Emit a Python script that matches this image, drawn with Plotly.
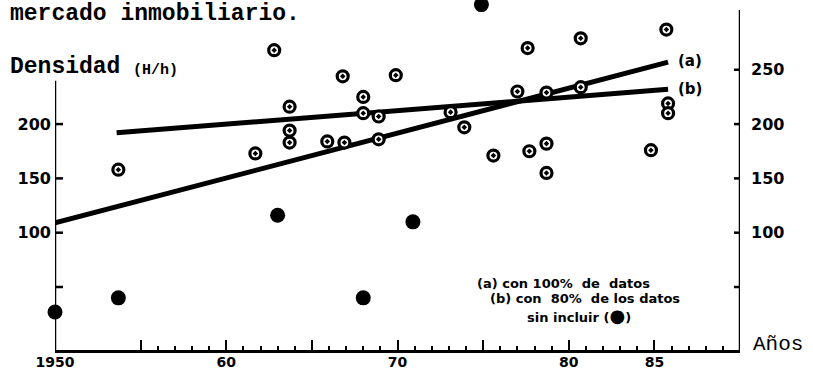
import plotly.graph_objects as go

# ---------------- data ----------------
open_years = [1953.7, 1962.8, 1966.8, 1969.9, 1963.7, 1963.7, 1963.7, 1961.7, 1968.0, 1968.0,
              1968.9, 1965.9, 1966.9, 1968.9, 1977.6, 1980.7, 1985.7, 1977.0, 1978.7, 1980.7,
              1973.1, 1973.9, 1975.6, 1977.7, 1978.7, 1978.7, 1984.8, 1985.8, 1985.8]
open_vals = [158, 268, 244, 245, 216, 194, 183, 173, 225, 210,
             207, 184, 183, 186, 270, 279, 287, 230, 229, 234,
             211, 197, 171, 175, 182, 155, 176, 219, 210]

excl_years = [1950.0, 1953.7, 1963.0, 1968.0, 1970.9, 1974.9]
excl_vals = [27, 40, 116, 40, 110, 310]

line_a_years = [1950.0, 1985.8]
line_a_vals = [109, 257]
line_b_years = [1953.6, 1985.8]
line_b_vals = [192, 232]

x_tick_vals = [1950, 1955, 1960, 1965, 1970, 1975, 1980, 1985]
x_tick_text = ["1950", "", "60", "", "70", "", "80", "85"]
x_minor_vals = [y for y in range(1956, 1990) if y % 5 != 0]

left_tick_vals = [50, 100, 150, 200]
left_tick_text = ["", "100", "150", "200"]
right_tick_vals = [50, 100, 150, 200, 250]
right_tick_text = ["", "100", "150", "200", "250"]

x_range = [1950, 1990]
y_range = [-8, 312.4]
left_axis_top = 240
right_axis_top = 305

# ---------------- layout geometry ----------------
W, H = 813, 372
ML, MR, MT, MB = 55, 73, 2, 22
PW, PH = W - ML - MR, H - MT - MB


def paper(xp, yp):
    return (xp - ML) / PW, (H - MB - yp) / PH


MONO = "Liberation Mono"
SANS = "DejaVu Sans"

fig = go.Figure()

fig.add_trace(go.Scatter(x=line_a_years, y=line_a_vals, mode="lines",
                         line=dict(color="black", width=5), xaxis="x", yaxis="y",
                         showlegend=False, hoverinfo="skip"))
fig.add_trace(go.Scatter(x=line_b_years, y=line_b_vals, mode="lines",
                         line=dict(color="black", width=5), xaxis="x", yaxis="y",
                         showlegend=False, hoverinfo="skip"))
fig.add_trace(go.Scatter(x=open_years, y=open_vals, mode="markers",
                         marker=dict(symbol="circle-dot", size=11, color="white",
                                     line=dict(color="black", width=3.2)),
                         xaxis="x", yaxis="y2", cliponaxis=False, showlegend=False))
fig.add_trace(go.Scatter(x=excl_years, y=excl_vals, mode="markers",
                         marker=dict(symbol="circle", size=15, color="black",
                                     line=dict(width=0)),
                         xaxis="x", yaxis="y2", cliponaxis=False, showlegend=False))

shapes = []
# left axis line (partial height)
shapes.append(dict(type="line", xref="x", yref="y", x0=x_range[0], x1=x_range[0],
                   y0=y_range[0], y1=left_axis_top, line=dict(color="black", width=2.5)))
# right axis line
shapes.append(dict(type="line", xref="x", yref="y", x0=x_range[1], x1=x_range[1],
                   y0=y_range[0], y1=right_axis_top, line=dict(color="black", width=2.5)))
for v in left_tick_vals:
    shapes.append(dict(type="line", xref="x", yref="y", xsizemode="pixel", xanchor=x_range[0],
                       x0=-5, x1=8, y0=v, y1=v, line=dict(color="black", width=2.5)))
for v in right_tick_vals:
    shapes.append(dict(type="line", xref="x", yref="y", xsizemode="pixel", xanchor=x_range[1],
                       x0=-6, x1=6, y0=v, y1=v, line=dict(color="black", width=2.5)))

annotations = []


def add_text(text, xp, yp, family, size, bold=True, anchor="left"):
    ax, ay = paper(xp, yp)
    annotations.append(dict(text=text, x=ax, y=ay, xref="paper", yref="paper",
                            xanchor=anchor, yanchor="middle", showarrow=False,
                            font=dict(family=family, size=size, color="black",
                                      weight="bold" if bold else "normal")))


add_text("mercado inmobiliario.", 8, 14, MONO, 23)
add_text("Densidad", 8, 67, MONO, 23)
add_text("(H/h)", 131, 70, MONO, 15)
add_text("Años", 751, 344, MONO, 21, bold=False)
add_text("(a)", 676, 61, SANS, 15)
add_text("(b)", 676, 89, SANS, 15)
add_text("(a) con 100%  de  datos", 475, 283, SANS, 13)
add_text("(b) con  80%  de los datos", 488, 298, SANS, 13)
add_text("sin incluir (<span style='font-size:18px'>●</span>)", 525, 315, SANS, 13)

fig.update_layout(
    width=W, height=H,
    margin=dict(l=ML, r=MR, t=MT, b=MB, pad=0, autoexpand=False),
    paper_bgcolor="white", plot_bgcolor="white",
    showlegend=False,
    xaxis=dict(range=x_range, showgrid=False, zeroline=False, automargin=False,
               showline=True, linecolor="black", linewidth=2.5,
               ticks="inside", ticklen=10, tickwidth=2, tickcolor="black",
               tickvals=x_tick_vals, ticktext=x_tick_text,
               ticklabelstandoff=-3,
               tickfont=dict(family=SANS, size=14, color="black", weight="bold"),
               minor=dict(tickvals=x_minor_vals, ticks="inside", ticklen=4,
                          tickwidth=2, tickcolor="black", showgrid=False)),
    yaxis=dict(range=y_range, showgrid=False, zeroline=False, showline=False,
               automargin=False,
               ticks="", tickvals=left_tick_vals, ticktext=left_tick_text,
               ticklabelstandoff=3,
               tickfont=dict(family=SANS, size=16, color="black", weight="bold")),
    yaxis2=dict(range=y_range, overlaying="y", side="right", showgrid=False,
                zeroline=False, showline=False, ticks="", automargin=False,
                tickvals=right_tick_vals, ticktext=right_tick_text,
                ticklabelstandoff=10,
                tickfont=dict(family=SANS, size=16, color="black", weight="bold")),
    shapes=shapes,
    annotations=annotations,
)

fig.write_html("out.html")
